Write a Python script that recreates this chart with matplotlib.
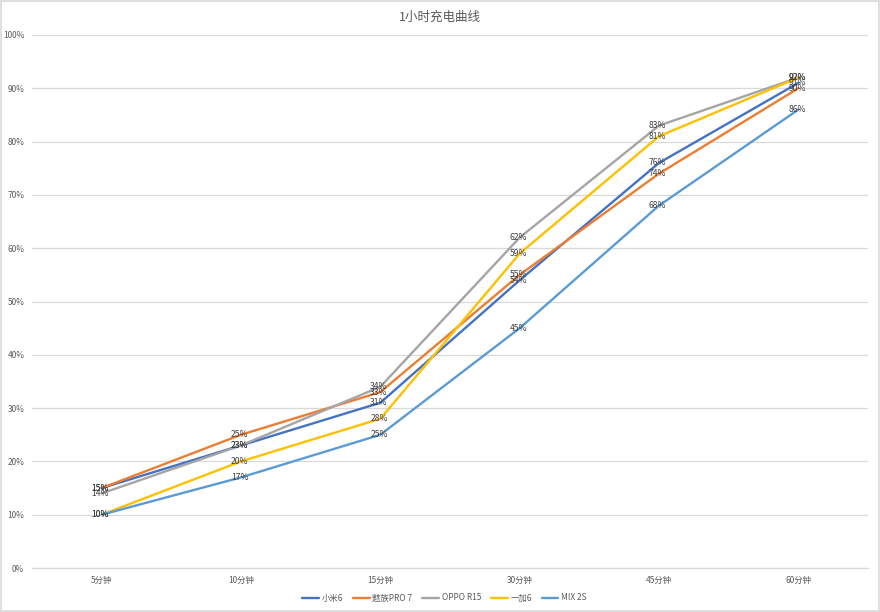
import matplotlib
matplotlib.use("Agg")
import matplotlib.pyplot as plt
from matplotlib.ticker import MultipleLocator, FuncFormatter

plt.rcParams['font.family'] = ['Noto Sans CJK SC', 'DejaVu Sans']

categories = ["5分钟", "10分钟", "15分钟", "30分钟", "45分钟", "60分钟"]
series_names = ["小米6", "魅族PRO 7", "OPPO R15", "一加6", "MIX 2S"]
xiaomi6 = [15, 23, 31, 54, 76, 91]
meizu_pro7 = [15, 25, 33, 55, 74, 90]
oppo_r15 = [14, 23, 34, 62, 83, 92]
oneplus6 = [10, 20, 28, 59, 81, 92]
mix2s = [10, 17, 25, 45, 68, 86]
colors = ["#4472C4", "#ED7D31", "#A5A5A5", "#FFC000", "#5B9BD5"]
title = "1小时充电曲线"

data = [xiaomi6, meizu_pro7, oppo_r15, oneplus6, mix2s]

fig = plt.figure(figsize=(8.8, 6.12), dpi=100)
ax = fig.add_axes([32/880, 1-568/612, 836/880, (568-35)/612])

x = list(range(len(categories)))
for name, vals, c in zip(series_names, data, colors):
    ax.plot(x, vals, color=c, lw=1.7, label=name, solid_capstyle='round')
for vals in data:
    for xi, v in zip(x, vals):
        ax.text(xi - 0.01, v, f"{v}%", ha='center', va='center', fontsize=6.2, color='#404040')

ax.set_xlim(-0.5, len(categories) - 0.5)
ax.set_ylim(0, 100)
ax.yaxis.set_major_locator(MultipleLocator(10))
ax.yaxis.set_major_formatter(FuncFormatter(lambda v, p: f"{int(v)}%"))
ax.set_xticks(x)
ax.set_xticklabels(categories)
ax.tick_params(axis='both', length=0, labelsize=6, colors='#595959')
ax.tick_params(axis='x', pad=6)
ax.tick_params(axis='y', pad=5.5)
ax.grid(axis='y', color='#D9D9D9', lw=0.9)
ax.set_axisbelow(True)
for s in ['top', 'right', 'left']:
    ax.spines[s].set_visible(False)
ax.spines['bottom'].set_color('#D9D9D9')
ax.spines['bottom'].set_linewidth(0.9)

fig.text(0.5, 1-17/612, title, ha='center', va='center', fontsize=9, color='#595959')

leg = fig.legend(loc='center', bbox_to_anchor=(0.505, 1-598/612), ncol=5, frameon=False,
                 fontsize=6, handlelength=2.0, handletextpad=0.3, columnspacing=1.2)
for t in leg.get_texts():
    t.set_color('#595959')

border = plt.Rectangle((0.001, 0.001), 0.998, 0.998, transform=fig.transFigure,
                       fill=False, ec='#D9D9D9', lw=1.2)
fig.add_artist(border)

fig.savefig("out.png", dpi=100)
